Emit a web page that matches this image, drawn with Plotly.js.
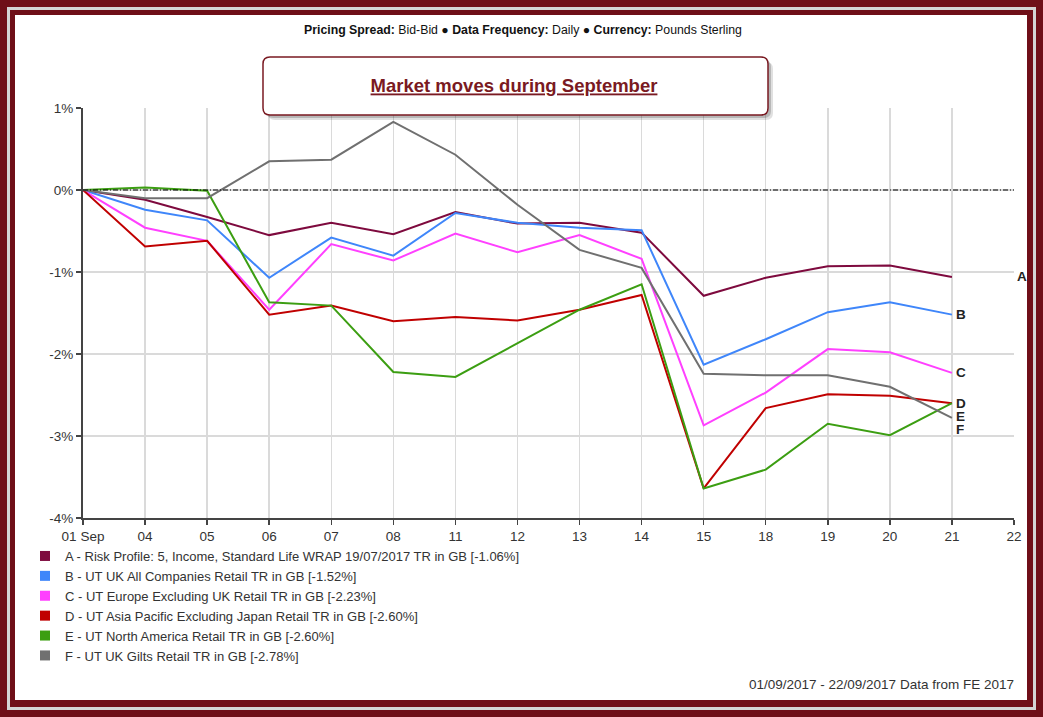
<!DOCTYPE html>
<html>
<head>
<meta charset="utf-8">
<script src="https://cdn.plot.ly/plotly-3.0.1.min.js"></script>
<style>
  html, body { margin: 0; padding: 0; background: #fff; }
  #wrap { position: relative; width: 1043px; height: 717px; background: #6F0F18; overflow: hidden; }
  #f1 { position: absolute; left: 7px; top: 7px; width: 1029px; height: 703px; background: #D4D4D4; }
  #f2 { position: absolute; left: 10px; top: 10px; width: 1023px; height: 697px; background: #6F0F18; }
  #f3 { position: absolute; left: 15px; top: 15px; width: 1012px; height: 685px; background: #FFFFFF; }
  #chart { position: absolute; left: 0; top: 0; width: 1043px; height: 717px; }
</style>
</head>
<body>
<div id="wrap">
  <div id="f1"></div>
  <div id="f2"></div>
  <div id="f3"></div>
  <div id="chart"></div>
</div>
<script>
// ---------- data ----------
const dates = ['01 Sep','04','05','06','07','08','11','12','13','14','15','18','19','20','21'];
const axisTicks = ['01 Sep','04','05','06','07','08','11','12','13','14','15','18','19','20','21','22'];

const seriesA = [0,-0.12,-0.33,-0.55,-0.40,-0.54,-0.27,-0.41,-0.40,-0.52,-1.29,-1.07,-0.93,-0.92,-1.06];
const seriesB = [0,-0.24,-0.37,-1.07,-0.58,-0.80,-0.28,-0.40,-0.46,-0.49,-2.13,-1.82,-1.49,-1.37,-1.52];
const seriesC = [0,-0.46,-0.62,-1.46,-0.66,-0.86,-0.53,-0.76,-0.55,-0.84,-2.87,-2.47,-1.94,-1.98,-2.23];
const seriesD = [0,-0.69,-0.62,-1.52,-1.41,-1.60,-1.55,-1.59,-1.46,-1.28,-3.64,-2.66,-2.49,-2.51,-2.60];
const seriesE = [0,0.03,-0.01,-1.37,-1.41,-2.22,-2.28,-1.87,-1.46,-1.15,-3.64,-3.41,-2.85,-2.99,-2.60];
const seriesF = [0,-0.10,-0.10,0.35,0.37,0.83,0.43,-0.18,-0.73,-0.95,-2.24,-2.26,-2.26,-2.40,-2.78];

const letters = ['A','B','C','D','E','F'];
const names = [
  'A - Risk Profile: 5, Income, Standard Life WRAP 19/07/2017 TR in GB [-1.06%]',
  'B - UT UK All Companies Retail TR in GB [-1.52%]',
  'C - UT Europe Excluding UK Retail TR in GB [-2.23%]',
  'D - UT Asia Pacific Excluding Japan Retail TR in GB [-2.60%]',
  'E - UT North America Retail TR in GB [-2.60%]',
  'F - UT UK Gilts Retail TR in GB [-2.78%]'
];
const yTicks = [1,0,-1,-2,-3,-4];

// ---------- styles ----------
const allSeries = [seriesA, seriesB, seriesC, seriesD, seriesE, seriesF];
const colors = ['#7E0A3E','#3F86FA','#FF40FF','#C00000','#3C9E12','#707070'];
const labelShift = [0, 0, 0, 0, -13, -11.5];
const FONT = 'Liberation Sans, Arial, sans-serif';

// plot area in pixels
const L = 83, R = 1014, T = 108, B = 518, W = 1043, H = 717;
const pw = R - L, ph = B - T;
const px = v => (v - L) / pw;
const py = v => (B - v) / ph;

const traces = [];
allSeries.forEach((s, i) => {
  traces.push({
    x: dates, y: s, type: 'scatter', mode: 'lines',
    line: {color: colors[i], width: 2},
    showlegend: false, hoverinfo: 'x+y'
  });
});
allSeries.forEach((s, i) => {
  traces.push({
    x: [null], y: [null], type: 'scatter', mode: 'markers',
    marker: {symbol: 'square', size: 10, color: colors[i]},
    name: names[i], showlegend: true
  });
});

const annotations = [];
allSeries.forEach((s, i) => {
  const isA = i === 0;
  annotations.push({
    xref: 'paper', x: isA ? 1 : px(952), yref: 'y', y: s[s.length - 1],
    text: '<b>' + letters[i] + '</b>', showarrow: false,
    xanchor: 'left', xshift: isA ? 2 : 3, yshift: labelShift[i],
    height: 11, borderpad: 0, valign: 'middle',
    font: {family: FONT, size: 13.5, color: '#222'}
  });
});
annotations.push({
  xref: 'paper', yref: 'paper', x: px(523), y: py(30),
  text: '<b>Pricing Spread:</b> Bid-Bid \u25CF <b>Data Frequency:</b> Daily \u25CF <b>Currency:</b> Pounds Sterling',
  showarrow: false, xanchor: 'center', yanchor: 'middle',
  font: {family: FONT, size: 12.3, color: '#111'}
});
annotations.push({
  xref: 'paper', yref: 'paper', x: px(1013), y: py(684),
  text: '01/09/2017 - 22/09/2017 Data from FE 2017',
  showarrow: false, xanchor: 'right', yanchor: 'middle', xshift: 3,
  font: {family: FONT, size: 13.5, color: '#333'}
});

// rounded title box path (paper coords)
function roundRect(x0, y0, x1, y1, r) {
  const X = v => px(v).toFixed(5), Y = v => py(v).toFixed(5);
  return 'M' + X(x0 + r) + ',' + Y(y0) +
    ' L' + X(x1 - r) + ',' + Y(y0) +
    ' Q' + X(x1) + ',' + Y(y0) + ' ' + X(x1) + ',' + Y(y0 + r) +
    ' L' + X(x1) + ',' + Y(y1 - r) +
    ' Q' + X(x1) + ',' + Y(y1) + ' ' + X(x1 - r) + ',' + Y(y1) +
    ' L' + X(x0 + r) + ',' + Y(y1) +
    ' Q' + X(x0) + ',' + Y(y1) + ' ' + X(x0) + ',' + Y(y1 - r) +
    ' L' + X(x0) + ',' + Y(y0 + r) +
    ' Q' + X(x0) + ',' + Y(y0) + ' ' + X(x0 + r) + ',' + Y(y0) + ' Z';
}

const shapes = [
  {type: 'line', xref: 'paper', x0: 0, x1: 1, yref: 'y', y0: 0, y1: 0,
   line: {color: '#000', width: 1, dash: '5px,2px,1px,2px'}, layer: 'above'},
  {type: 'path', xref: 'paper', yref: 'paper', path: roundRect(268, 62, 773, 120, 7),
   fillcolor: 'rgba(0,0,0,0.12)', line: {width: 0}, layer: 'above'},
  {type: 'path', xref: 'paper', yref: 'paper', path: roundRect(266, 60, 771, 118, 7),
   fillcolor: 'rgba(0,0,0,0.18)', line: {width: 0}, layer: 'above'},
  {type: 'path', xref: 'paper', yref: 'paper', path: roundRect(263, 57, 768, 115, 7),
   fillcolor: '#FFFFFF', line: {color: '#7A1A22', width: 1.5}, layer: 'above'}
];

const layout = {
  width: W, height: H,
  margin: {l: L, r: W - R, t: T, b: H - B, pad: 0},
  paper_bgcolor: 'rgba(0,0,0,0)',
  plot_bgcolor: '#FFFFFF',
  font: {family: FONT, size: 13.5, color: '#333'},
  title: {
    text: '<b><u>Market moves during September</u></b>',
    font: {family: FONT, size: 18.5, color: '#7A1A22'},
    x: px(514), xref: 'paper', xanchor: 'center',
    y: 1 - 86 / H, yref: 'container', yanchor: 'middle'
  },
  xaxis: {
    type: 'category', categoryorder: 'array', categoryarray: axisTicks,
    tickvals: axisTicks, ticktext: axisTicks,
    range: [0, axisTicks.length - 1],
    showgrid: true, gridcolor: '#DADADA', gridwidth: 1.5,
    showline: true, linecolor: '#444', linewidth: 2,
    ticks: 'outside', ticklen: 5, tickcolor: '#444', tickwidth: 1.5,
    zeroline: false, mirror: false,
    tickfont: {family: FONT, size: 13.5, color: '#333'}
  },
  yaxis: {
    range: [-4, 1], tickvals: yTicks, ticktext: yTicks.map(v => v + '%'),
    showgrid: true, gridcolor: '#DADADA', gridwidth: 1.5,
    showline: true, linecolor: '#444', linewidth: 2,
    ticks: 'outside', ticklen: 5, tickcolor: '#444', tickwidth: 1.5,
    zeroline: false,
    tickfont: {family: FONT, size: 13.5, color: '#333'}
  },
  legend: {
    x: px(25), y: py(541), xanchor: 'left', yanchor: 'top',
    font: {family: FONT, size: 13, color: '#333'},
    bgcolor: 'rgba(0,0,0,0)', borderwidth: 0,
    tracegroupgap: 0, itemclick: false
  },
  shapes: shapes,
  annotations: annotations,
  showlegend: true
};

Plotly.newPlot('chart', traces, layout, {displayModeBar: false, staticPlot: true});
</script>
</body>
</html>
